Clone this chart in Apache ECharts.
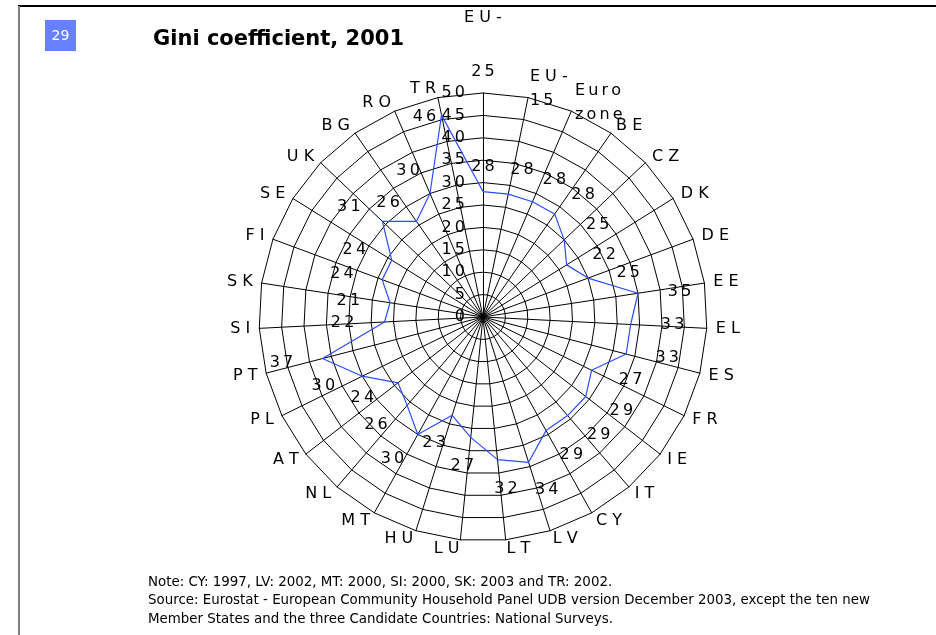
<!DOCTYPE html>
<html>
<head>
<meta charset="utf-8">
<script src="https://cdn.jsdelivr.net/npm/echarts@6/dist/echarts.min.js"></script>
<style>
  html, body { margin: 0; padding: 0; background: #fff; }
  #chart { width: 936px; height: 635px; }
</style>
</head>
<body>
<div id="chart"></div>
<script>
// Gini coefficient by country / aggregate, clockwise from the top
const countries = ['EU-25', 'EU-15', 'Euro zone', 'BE', 'CZ', 'DK', 'DE', 'EE', 'EL', 'ES',
  'FR', 'IE', 'IT', 'CY', 'LV', 'LT', 'LU', 'HU', 'MT', 'NL', 'AT', 'PL', 'PT', 'SI', 'SK',
  'FI', 'SE', 'UK', 'BG', 'RO', 'TR'];
const gini = [28, 28, 28, 28, 25, 22, 25, 35, 33, 33, 27, 29, 29, 29, 34, 32, 27, 23, 30, 26,
  24, 30, 37, 22, 21, 24, 24, 31, 26, 30, 46];
const scaleMin = 0;
const scaleMax = 50;
const scaleStep = 5;

const titleText = 'Gini coefficient, 2001';
const pageNumber = '29';
const noteLines = [
  'Note: CY: 1997, LV: 2002, MT: 2000, SI: 2000, SK: 2003 and TR: 2002.',
  'Source: Eurostat - European Community Household Panel UDB version December 2003, except the ten new',
  'Member States and the three Candidate Countries: National Surveys.'
];

const FONT = 'DejaVu Sans';
const CX = 483, CY = 317, R = 224;
const N = countries.length;

// spread characters apart the way the printed chart does
const THIN = '\u2009';
function spreadDigits(s) { return String(s).split('').join(THIN); }
function spreadWord(w) {
  return /^[A-Z\-]+$/.test(w) ? w.split('').join(' ') : w.split('').join(THIN);
}
function axisNameText(name) {
  let parts;
  if (name.indexOf('-') > 0) parts = [name.slice(0, name.indexOf('-') + 1), name.slice(name.indexOf('-') + 1)];
  else parts = name.split(' ');
  return parts.map(spreadWord);
}

// radar runs counter-clockwise, so feed it the list in mirrored order
const radarOrder = [0].concat(Array.from({ length: N - 1 }, (_, k) => N - 1 - k));

// value labels sit just outside each vertex; values close to the
// outer ring get their label beside the vertex instead
function labelOffset(i) {
  const a = i * 2 * Math.PI / N;
  const s = Math.sin(a), c = Math.cos(a);
  if (gini[i] > scaleMax - 2 * scaleStep) return [Math.sign(s) * 17, 2];
  const dx = 42 * Math.sign(s) * Math.pow(Math.abs(s), 0.7);
  const ay = c > 0 ? 25 : 29;
  const dy = -ay * Math.sign(c) * Math.pow(Math.abs(c), 1.4);
  return [dx, dy];
}

const chart = echarts.init(document.getElementById('chart'), null, { renderer: 'canvas' });

chart.setOption({
  animation: false,
  backgroundColor: '#fff',
  title: {
    text: titleText,
    left: 148, top: 24,
    textStyle: { fontFamily: FONT, fontSize: 21, fontWeight: 'bold', color: '#000' }
  },
  radar: {
    center: [CX, CY],
    radius: R,
    startAngle: 90,
    shape: 'polygon',
    splitNumber: (scaleMax - scaleMin) / scaleStep,
    nameGap: 9,
    indicator: radarOrder.map((k, j) => {
      const ind = { name: countries[k], min: scaleMin, max: scaleMax };
      if (j === 0) ind.axisLabel = { show: true };
      return ind;
    }),
    axisName: {
      color: '#000',
      fontFamily: FONT,
      fontSize: 16,
      lineHeight: 24,
      formatter: function (name) {
        const lines = axisNameText(name);
        if (name === 'EU-25') return '{hi|' + lines[0] + '}\n{lo|' + lines[1] + '}';
        return lines.join('\n');
      },
      rich: {
        hi: { fontFamily: FONT, fontSize: 16, color: '#000', lineHeight: 84 },
        lo: { fontFamily: FONT, fontSize: 16, color: '#000', lineHeight: 24 }
      }
    },
    axisLine: { show: true, lineStyle: { color: '#000', width: 1 } },
    splitLine: { show: true, lineStyle: { color: '#000', width: 1 } },
    splitArea: { show: false },
    axisTick: { show: false },
    axisLabel: {
      show: false,
      color: '#000',
      fontFamily: FONT,
      fontSize: 16,
      margin: 18,
      formatter: v => spreadDigits(v)
    }
  },
  polar: { center: [CX, CY], radius: R },
  angleAxis: {
    type: 'value', min: 0, max: N, startAngle: 90, clockwise: true,
    show: false
  },
  radiusAxis: { type: 'value', min: scaleMin, max: scaleMax, show: false },
  series: [
    {
      type: 'radar',
      symbol: 'none',
      silent: true,
      lineStyle: { color: '#2a4dff', width: 1.2 },
      data: [{ value: radarOrder.map(k => gini[k]), name: 'Gini' }]
    },
    {
      type: 'scatter',
      coordinateSystem: 'polar',
      symbolSize: 1,
      silent: true,
      itemStyle: { color: '#fff', opacity: 0 },
      label: {
        show: true,
        position: 'inside',
        color: '#000',
        opacity: 1,
        textBorderWidth: 0,
        fontFamily: FONT,
        fontSize: 16,
        formatter: p => spreadDigits(p.value[0])
      },
      data: gini.map((v, i) => ({ value: [v, i], label: { offset: labelOffset(i) } }))
    }
  ],
  graphic: [
    { type: 'line', shape: { x1: 18, y1: 6, x2: 936, y2: 6 }, style: { stroke: '#000', lineWidth: 2 } },
    { type: 'line', shape: { x1: 19, y1: 6, x2: 19, y2: 635 }, style: { stroke: '#808080', lineWidth: 2 } },
    { type: 'rect', shape: { x: 45, y: 20, width: 31, height: 31 }, style: { fill: '#6680ff' } },
    {
      type: 'text', x: 60.5, y: 36,
      style: { text: pageNumber, fill: '#fff', font: '14px ' + FONT, align: 'center', verticalAlign: 'middle' }
    },
    {
      type: 'text', x: 148, y: 573,
      style: {
        text: noteLines.join('\n'), fill: '#000', font: '13.4px ' + FONT,
        lineHeight: 18.5, align: 'left', verticalAlign: 'top'
      }
    }
  ]
});
</script>
</body>
</html>
